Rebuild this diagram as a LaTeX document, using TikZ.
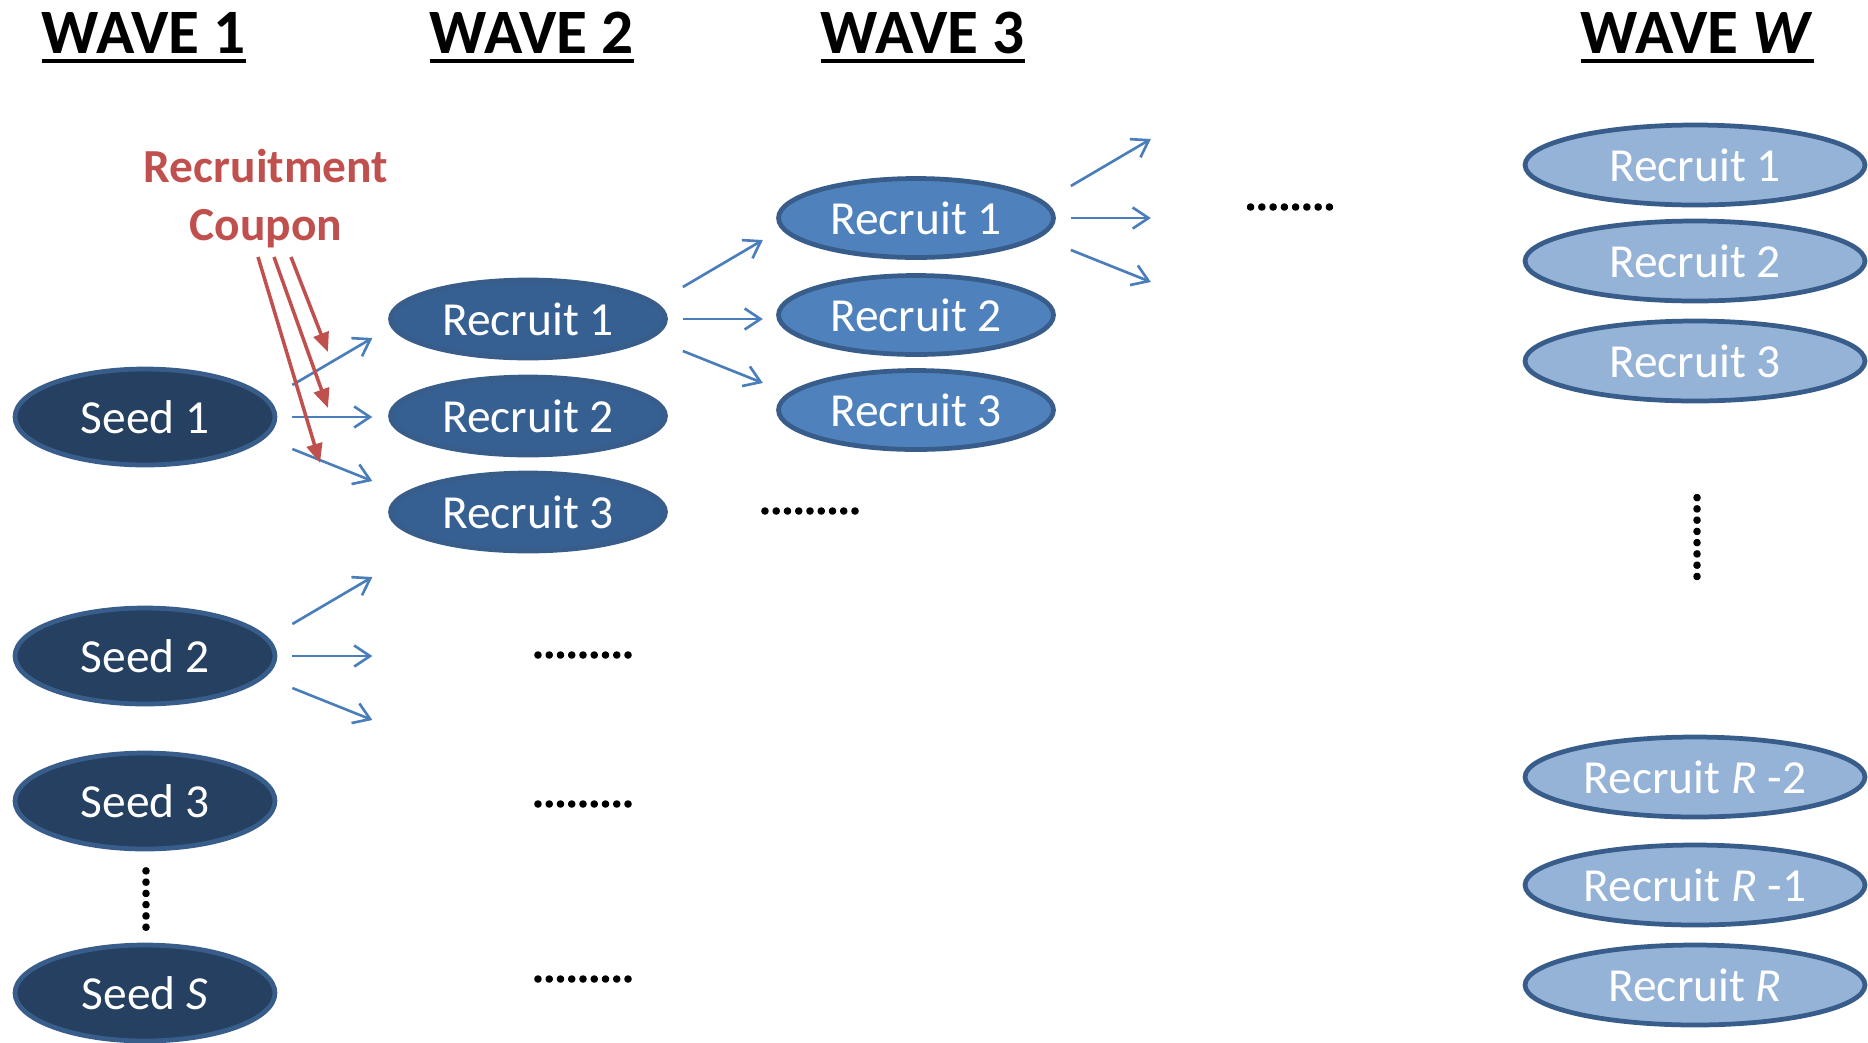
\documentclass[tikz,border=0pt]{standalone}
\usepackage{fontspec}
\setmainfont{Carlito}
\newfontfamily\dotfont[BoldFeatures = {FakeBold = 2.5}]{Carlito}
\usetikzlibrary{calc, shapes.geometric, arrows.meta}

\definecolor{seedfill}{HTML}{254061}
\definecolor{wavetwo}{HTML}{376092}
\definecolor{wavethree}{HTML}{4F81BD}
\definecolor{wavelast}{HTML}{95B3D7}
\definecolor{ringblue}{HTML}{385D8A}
\definecolor{arrowblue}{HTML}{4A7EBB}
\definecolor{couponred}{HTML}{C0504D}

\tikzset{
	wave title/.style = {font = \fontsize{36}{42}\selectfont\bfseries, inner sep = 0pt, anchor = base},
	person/.style = {ellipse, draw = ringblue, line width = 2.7pt, text = white, inner sep = 0pt, font = \fontsize{27}{32}\selectfont},
	seed/.style = {person, fill = seedfill, minimum width = 5.2cm, minimum height = 1.92cm},
	recruit two/.style = {person, fill = wavetwo, minimum width = 5.5cm, minimum height = 1.56cm},
	recruit three/.style = {person, fill = wavethree, minimum width = 5.5cm, minimum height = 1.58cm},
	recruit last/.style = {person, fill = wavelast, minimum width = 6.8cm, minimum height = 1.6cm},
	more/.style = {font = \dotfont\fontsize{24}{24}\selectfont\bfseries, inner sep = 0pt},
	fan arrow/.style = {arrowblue, line width = 1.5pt, -{Straight Barb[length = 9pt, width = 12pt]}},
	coupon arrow/.style = {couponred, line width = 2pt, -{Triangle[length = 11pt, width = 9pt]}}
}

\begin{document}
\begin{tikzpicture}[x = 0.02cm, y = -0.02cm]
		\useasboundingbox (0,0) rectangle (1868,1042);
		
		% titles
		\node [wave title] (wave 1) at (144, 53) {WAVE 1};
		\node [wave title] (wave 2) at (532, 53) {WAVE 2};
		\node [wave title] (wave 3) at (923, 53) {WAVE 3};
		\node [wave title] (wave W) at (1697, 53) {WAVE \textit{W}};
		
		\draw [line width = 2.3pt] ([yshift = -0.16cm] wave 1.base west) -- ([yshift = -0.16cm] wave 1.base east);
		\draw [line width = 2.3pt] ([yshift = -0.16cm] wave 2.base west) -- ([yshift = -0.16cm] wave 2.base east);
		\draw [line width = 2.3pt] ([yshift = -0.16cm] wave 3.base west) -- ([yshift = -0.16cm] wave 3.base east);
		\draw [line width = 2.3pt] ([yshift = -0.16cm] wave W.base west) -- ([yshift = -0.16cm] wave W.base east);
		
		% seeds
		\node [seed] (seed 1) at (145, 417) {Seed 1};
		\node [seed] (seed 2) at (145, 656) {Seed 2};
		\node [seed] (seed 3) at (145, 801) {Seed 3};
		\node [seed] (seed S) at (145, 993) {Seed \textit{S}};
		\node [more, rotate = 90] (seed dots) at (146, 899) {......};
		
		% wave 2
		\node [recruit two] (w2 r1) at (528, 319) {Recruit 1};
		\node [recruit two] (w2 r2) at (528, 416) {Recruit 2};
		\node [recruit two] (w2 r3) at (528, 512) {Recruit 3};
		\node [more] (w2 dots a) at (583, 655) {.........};
		\node [more] (w2 dots b) at (583, 804) {.........};
		\node [more] (w2 dots c) at (583, 979) {.........};
		
		% wave 3
		\node [recruit three] (w3 r1) at (916, 218) {Recruit 1};
		\node [recruit three] (w3 r2) at (916, 315) {Recruit 2};
		\node [recruit three] (w3 r3) at (916, 410) {Recruit 3};
		\node [more] (w3 dots) at (810, 511) {.........};
		\node [more] (w4 dots) at (1290, 207) {........};
		
		% wave W
		\node [recruit last] (wW r1) at (1695, 165) {Recruit 1};
		\node [recruit last] (wW r2) at (1695, 261) {Recruit 2};
		\node [recruit last] (wW r3) at (1695, 361) {Recruit 3};
		\node [more, rotate = 90] (wW dots) at (1697, 537) {........};
		\node [recruit last] (wW rR2) at (1695, 777) {Recruit \textit{R} -2};
		\node [recruit last] (wW rR1) at (1695, 885) {Recruit \textit{R} -1};
		\node [recruit last] (wW rR) at (1695, 985) {Recruit \textit{R}};
		
		% recruitment arrows
		\draw [fan arrow] ($ (seed 1.east) + (15, -32) $) -- ($ (seed 1.east) + (95, -79) $);
		\draw [fan arrow] ($ (seed 1.east) + (15, 0) $) -- ($ (seed 1.east) + (95, 0) $);
		\draw [fan arrow] ($ (seed 1.east) + (15, 32) $) -- ($ (seed 1.east) + (95, 64) $);
		
		\draw [fan arrow] ($ (seed 2.east) + (15, -32) $) -- ($ (seed 2.east) + (95, -79) $);
		\draw [fan arrow] ($ (seed 2.east) + (15, 0) $) -- ($ (seed 2.east) + (95, 0) $);
		\draw [fan arrow] ($ (seed 2.east) + (15, 32) $) -- ($ (seed 2.east) + (95, 64) $);
		
		\draw [fan arrow] ($ (w2 r1.east) + (15, -32) $) -- ($ (w2 r1.east) + (95, -79) $);
		\draw [fan arrow] ($ (w2 r1.east) + (15, 0) $) -- ($ (w2 r1.east) + (95, 0) $);
		\draw [fan arrow] ($ (w2 r1.east) + (15, 32) $) -- ($ (w2 r1.east) + (95, 64) $);
		
		\draw [fan arrow] ($ (w3 r1.east) + (15, -32) $) -- ($ (w3 r1.east) + (95, -79) $);
		\draw [fan arrow] ($ (w3 r1.east) + (15, 0) $) -- ($ (w3 r1.east) + (95, 0) $);
		\draw [fan arrow] ($ (w3 r1.east) + (15, 32) $) -- ($ (w3 r1.east) + (95, 64) $);
		
		% coupons
		\node [couponred, align = center, inner sep = 0pt, font = \fontsize{27}{33}\selectfont\bfseries] (coupon) at (266, 199) {Recruitment\\Coupon};
		
		\coordinate (coupon foot) at (274, 257);
		\coordinate (coupon a) at (328, 352);
		\coordinate (coupon b) at (328, 408);
		\coordinate (coupon c) at (320, 463);
		
		\draw [coupon arrow] ($ (coupon foot) + (17, 0) $) -- (coupon a);
		\draw [coupon arrow] (coupon foot) -- (coupon b);
		\draw [coupon arrow] ($ (coupon foot) + (-16, 0) $) -- (coupon c);
	\end{tikzpicture}
\end{document}
